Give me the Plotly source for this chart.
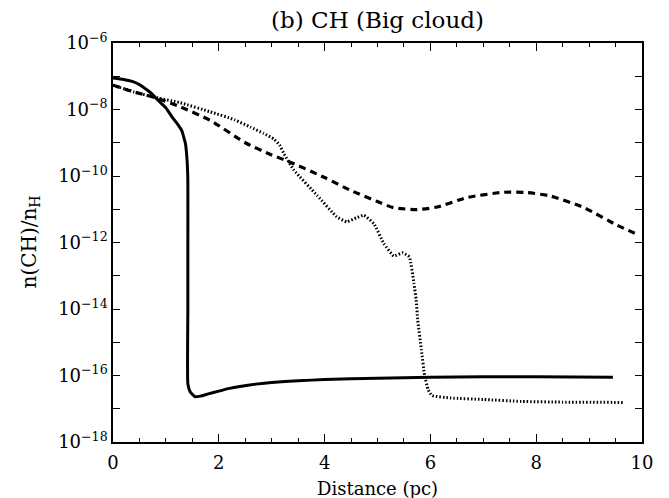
import plotly.graph_objects as go

# n(CH)/n_H profiles
solid_x = [0.0, 0.2, 0.39, 0.5, 0.58, 0.7, 0.8, 0.9, 1.0, 1.115, 1.2, 1.3,
           1.37, 1.40, 1.415, 1.415, 1.415, 1.415, 1.46, 1.55, 1.65, 1.8,
           2.0, 2.2, 2.4, 2.7, 3.0, 3.5, 4.0, 5.0, 6.0, 7.0, 8.0, 9.45]
solid_y = [8.9e-8, 8.0e-8, 6.8e-8, 5.6e-8, 4.6e-8, 3.3e-8, 2.3e-8, 1.6e-8,
           1.12e-8, 6.0e-9, 4.0e-9, 2.3e-9, 9.3e-10, 3.0e-10, 7.4e-11,
           1.0e-12, 1.0e-14, 5.6e-17, 3.2e-17, 2.3e-17, 2.4e-17, 2.8e-17,
           3.4e-17, 4.1e-17, 4.7e-17, 5.5e-17, 6.2e-17, 6.9e-17, 7.6e-17,
           8.3e-17, 8.9e-17, 9.1e-17, 9.1e-17, 8.9e-17]

dashed_x = [0.0, 0.39, 0.75, 1.27, 1.84, 2.5, 3.0, 3.35, 4.0, 4.49, 5.0,
            5.3, 5.75, 6.13, 6.69, 7.39, 7.83, 8.27, 8.9, 9.53, 9.9]
dashed_y = [5.4e-8, 3.4e-8, 2.4e-8, 1.2e-8, 4.7e-9, 1.0e-9, 4.3e-10,
            2.6e-10, 9.0e-11, 3.7e-11, 1.7e-11, 1.12e-11, 9.8e-12, 1.17e-11,
            2.24e-11, 3.24e-11, 3.16e-11, 2.5e-11, 1.12e-11, 3.3e-12,
            1.8e-12]

dotted_x = [0.0, 0.39, 0.75, 1.27, 1.84, 2.3, 2.6, 2.85, 3.04, 3.15, 3.23,
            3.42, 3.86, 4.23, 4.42, 4.6, 4.74, 4.93, 5.12, 5.31, 5.47, 5.6,
            5.69, 5.73, 5.76, 5.83, 5.89, 5.96, 6.03, 6.39, 7.0, 7.72, 8.5,
            9.65]
dotted_y = [5.4e-8, 3.4e-8, 2.4e-8, 1.6e-8, 8.5e-9, 4.9e-9, 2.95e-9,
            1.9e-9, 1.3e-9, 8.5e-10, 4.7e-10, 1.5e-10, 2.6e-11, 5.9e-12,
            4.2e-12, 5.5e-12, 6.6e-12, 3.7e-12, 9.3e-13, 3.9e-13, 4.9e-13,
            3.7e-13, 5.8e-14, 1.9e-14, 4.7e-15, 5.9e-16, 1.0e-16, 3.7e-17,
            2.5e-17, 2.1e-17, 1.9e-17, 1.66e-17, 1.58e-17, 1.55e-17]

y_exponents = list(range(-18, -5))

FONT = "DejaVu Serif"
INK = "black"
W, H = 669, 498
L, R, T, B = 113, 27, 43, 56
PW, PH = W - L - R, H - T - B

fig = go.Figure()
fig.add_trace(go.Scatter(x=dotted_x, y=dotted_y, mode="lines",
                         line=dict(color=INK, width=3, dash="1.5px,2px", shape="spline", smoothing=0.4)))
fig.add_trace(go.Scatter(x=dashed_x, y=dashed_y, mode="lines",
                         line=dict(color=INK, width=3.2, dash="7px,5px", shape="spline", smoothing=0.6)))
fig.add_trace(go.Scatter(x=solid_x, y=solid_y, mode="lines",
                         line=dict(color=INK, width=3, shape="spline", smoothing=0.4)))

tickvals = [10.0 ** e for e in y_exponents]
ticktext = [f"10<sup>\u2212{-e}</sup>" if e % 2 == 0 else "" for e in y_exponents]

fig.update_layout(
    width=W, height=H,
    paper_bgcolor="white", plot_bgcolor="white",
    showlegend=False,
    font=dict(family=FONT, color=INK, size=18),
    margin=dict(l=L, r=R, t=T, b=B),
    title=dict(text="(b) CH (Big cloud)", x=(L + PW / 2) / W, xanchor="center",
               y=1 - 20 / H, yanchor="middle", font=dict(size=23)),
)
# axis titles as annotations so they sit where the reference puts them
fig.add_annotation(text="n(CH)/n<sub>H</sub>", xref="paper", yref="paper",
                   x=-(L - 29) / PW, y=0.5, xanchor="center", yanchor="middle",
                   textangle=-90, showarrow=False, font=dict(size=20))
fig.add_annotation(text="Distance (pc)", xref="paper", yref="paper",
                   x=0.5, y=-(488 - (T + PH)) / PH, xanchor="center", yanchor="middle",
                   showarrow=False, font=dict(size=18))
fig.update_xaxes(
    range=[0, 10], dtick=2, tick0=0,
    showline=True, linecolor=INK, linewidth=1.5, mirror="ticks",
    ticks="inside", ticklen=8, tickwidth=1.2, tickcolor=INK,
    ticklabelstandoff=4,
    minor=dict(dtick=0.5, ticks="inside", ticklen=4, tickwidth=1.2, tickcolor=INK),
    showgrid=False, zeroline=False,
)
fig.update_yaxes(
    type="log", range=[-18, -6],
    tickvals=tickvals, ticktext=ticktext,
    showline=True, linecolor=INK, linewidth=1.5, mirror="ticks",
    ticks="inside", ticklen=7, tickwidth=1.2, tickcolor=INK,
    showgrid=False, zeroline=False,
)

fig.write_html("out.html", config={"displayModeBar": False},
               post_script="document.body.style.margin='0';")
